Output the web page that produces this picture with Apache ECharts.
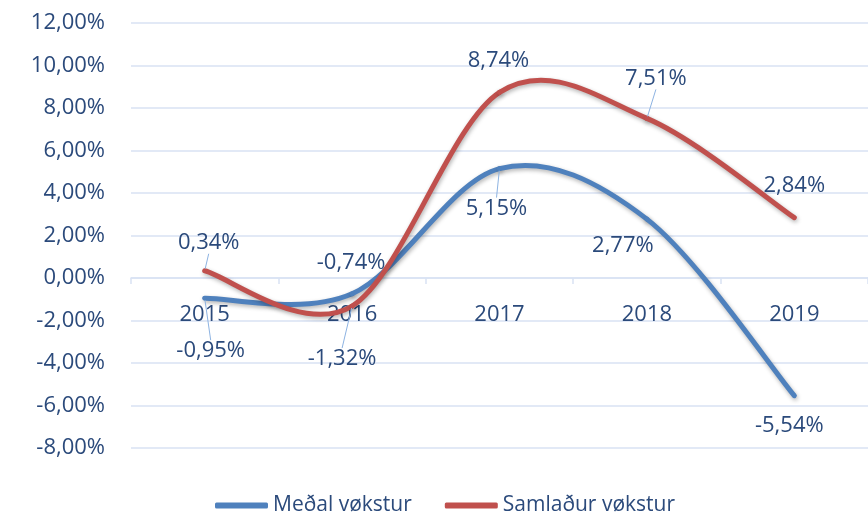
<!DOCTYPE html>
<html>
<head>
<meta charset="utf-8">
<script src="https://cdn.jsdelivr.net/npm/echarts@6/dist/echarts.min.js"></script>
<style>
html,body{margin:0;padding:0;background:#fff;}
#chart{width:868px;height:512px;}
</style>
</head>
<body>
<div id="chart"></div>
<script>
// ---- data ----
var categories = ['2015', '2016', '2017', '2018', '2019'];
var medalVokstur = [-0.95, -0.74, 5.15, 2.77, -5.54];
var samladurVokstur = [0.34, -1.32, 8.74, 7.51, 2.84];
var seriesNames = ['Meðal vøkstur', 'Samlaður vøkstur'];
var yTicks = [-8, -6, -4, -2, 0, 2, 4, 6, 8, 10, 12];

// ---- label placement (pixel offsets from each point) ----
var blueLabelOffsets = [[6, 53], [-1, -31], [-3, 40], [-24, 27], [-5, 30]];
var redLabelOffsets = [[4, -28], [-10, 53], [-1, -32], [9, -40], [0, -32]];
var blueLeader = [true, false, true, false, false];
var redLeader = [true, true, false, true, false];

var TEXT = '#2B4A7B';
var GRID = '#D9E2F3';
var LEADER = '#8DB3E2';
var FONT = 'Open Sans';
var BLUE = '#4F81BD';
var RED = '#C0504D';

var GRID_TOP = 23, GRID_BOTTOM = 64, CHART_H = 512;
var yMin = yTicks[0], yMax = yTicks[yTicks.length - 1];
var plotH = CHART_H - GRID_TOP - GRID_BOTTOM;
var zeroFromBottom = (0 - yMin) / (yMax - yMin) * plotH;

function fmt(v) {
  return v.toFixed(2).replace('.', ',') + '%';
}

// Smoothed curve (Catmull-Rom style bezier, like a spreadsheet smoothed line)
function curveSeries(name, values, color) {
  return {
    name: name,
    type: 'custom',
    z: 2,
    itemStyle: { color: color },
    data: values.map(function (v, i) { return [i, v]; }),
    encode: { x: 0, y: 1 },
    silent: true,
    renderItem: function (params, api) {
      if (params.dataIndex !== 0) return null;
      var n = values.length;
      var P = [];
      for (var k = 0; k < n; k++) P.push(api.coord([k, api.value(1, k)]));
      function pt(k) { return P[Math.max(0, Math.min(n - 1, k))]; }
      var children = [];
      for (var i = 0; i < n - 1; i++) {
        var p0 = pt(i - 1), p1 = pt(i), p2 = pt(i + 1), p3 = pt(i + 2);
        children.push({
          type: 'bezierCurve',
          shape: {
            x1: p1[0], y1: p1[1],
            cpx1: p1[0] + (p2[0] - p0[0]) / 6, cpy1: p1[1] + (p2[1] - p0[1]) / 6,
            cpx2: p2[0] - (p3[0] - p1[0]) / 6, cpy2: p2[1] - (p3[1] - p1[1]) / 6,
            x2: p2[0], y2: p2[1]
          },
          style: {
            stroke: color, lineWidth: 5, fill: null, lineCap: 'round', lineJoin: 'round',
            shadowColor: 'rgba(0,0,0,0.3)', shadowBlur: 4, shadowOffsetX: 1, shadowOffsetY: 2
          }
        });
      }
      return { type: 'group', children: children };
    }
  };
}

function labelSeries(name, values, color, offsets, leaders) {
  return {
    name: name,
    type: 'line',
    z: 3,
    data: values.map(function (v, i) { return { value: v, labelLine: { show: leaders[i] } }; }),
    symbol: 'circle',
    symbolSize: 4,
    showSymbol: true,
    itemStyle: { color: color },
    lineStyle: { width: 0, opacity: 0 },
    label: {
      show: true,
      position: 'inside',
      color: TEXT,
      fontFamily: FONT,
      fontSize: 22,
      formatter: function (p) { return fmt(p.value); }
    },
    labelLine: { show: false, lineStyle: { color: LEADER, width: 1 } },
    labelLayout: function (p) {
      var o = offsets[p.dataIndex];
      return { dx: o[0], dy: o[1] };
    },
    emphasis: { disabled: true }
  };
}

var chart = echarts.init(document.getElementById('chart'), null, { renderer: 'canvas' });
chart.setOption({
  animation: false,
  backgroundColor: '#ffffff',
  color: [BLUE, RED, BLUE, RED],
  textStyle: { fontFamily: FONT },
  grid: { left: 131, right: -7, top: GRID_TOP, bottom: GRID_BOTTOM, containLabel: false },
  legend: {
    data: [
      { name: seriesNames[0], itemStyle: { color: BLUE } },
      { name: seriesNames[1], itemStyle: { color: RED } }
    ],
    top: 490,
    left: 210,
    icon: 'roundRect',
    itemWidth: 53,
    itemHeight: 6,
    itemGap: 33,
    textStyle: { color: TEXT, fontFamily: FONT, fontSize: 21 }
  },
  xAxis: {
    type: 'category',
    data: categories,
    boundaryGap: true,
    offset: -zeroFromBottom,
    axisLine: { onZero: false, lineStyle: { color: GRID, width: 1.5 } },
    axisTick: { show: true, length: 6, lineStyle: { color: GRID, width: 1.5 } },
    axisLabel: { color: TEXT, fontFamily: FONT, fontSize: 22, margin: 26 }
  },
  yAxis: {
    type: 'value',
    min: yMin,
    max: yMax,
    interval: 2,
    axisLine: { show: false },
    axisTick: { show: false },
    splitLine: { lineStyle: { color: GRID, width: 1.5 } },
    axisLabel: {
      color: TEXT, fontFamily: FONT, fontSize: 22, margin: 26,
      formatter: function (v) { return fmt(v); }
    }
  },
  series: [
    curveSeries(seriesNames[0], medalVokstur, BLUE),
    curveSeries(seriesNames[1], samladurVokstur, RED),
    labelSeries(seriesNames[0], medalVokstur, BLUE, blueLabelOffsets, blueLeader),
    labelSeries(seriesNames[1], samladurVokstur, RED, redLabelOffsets, redLeader)
  ]
});
</script>
</body>
</html>
